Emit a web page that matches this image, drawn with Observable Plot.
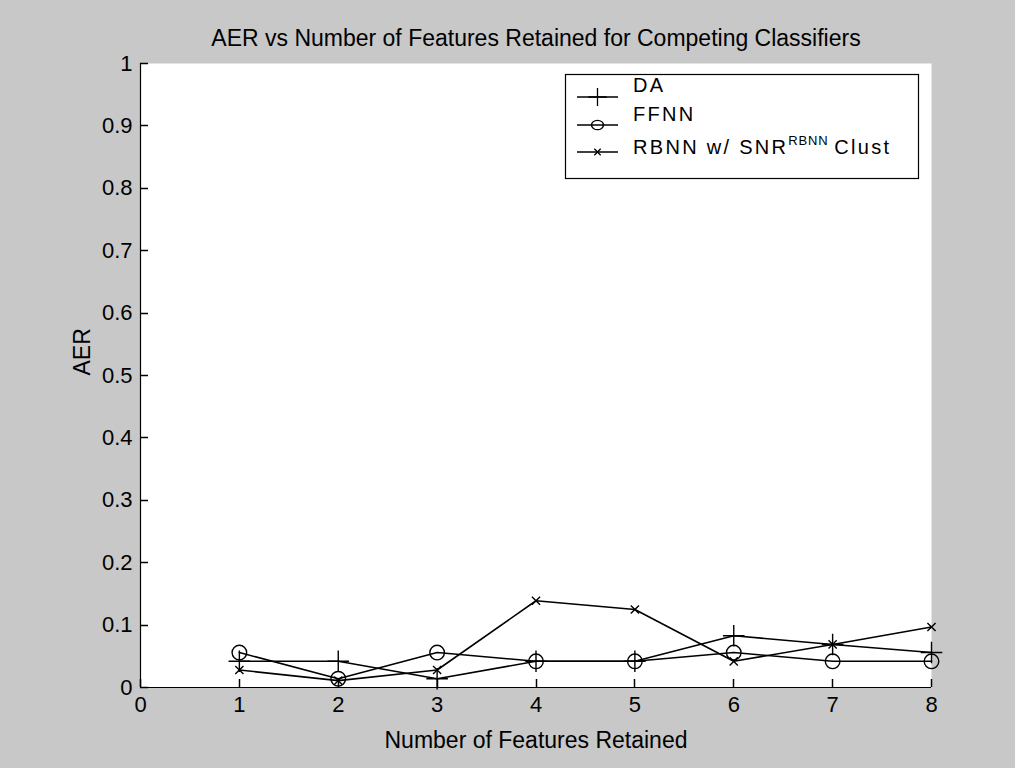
<!DOCTYPE html>
<html>
<head>
<meta charset="utf-8">
<script src="https://cdn.jsdelivr.net/npm/d3@7"></script>
<script src="https://cdn.jsdelivr.net/npm/@observablehq/plot@0.6"></script>
<style>
  html, body { margin: 0; padding: 0; background: #c8c8c8; }
  #wrap { position: relative; width: 1015px; height: 768px; overflow: hidden; }
  .overlay { position: absolute; left: 0; top: 0; pointer-events: none; }
</style>
</head>
<body>
<div id="wrap"></div>
<script>
// ---- data ----
const features = [1, 2, 3, 4, 5, 6, 7, 8];
const daAER   = [0.042, 0.042, 0.014, 0.042, 0.042, 0.083, 0.069, 0.056];
const ffnnAER = [0.056, 0.014, 0.056, 0.042, 0.042, 0.056, 0.042, 0.042];
const rbnnAER = [0.028, 0.011, 0.028, 0.139, 0.125, 0.042, 0.069, 0.097];
const seriesNames = ["DA", "FFNN", "RBNN w/ SNR^RBNN Clust"];
const xTicks = [0, 1, 2, 3, 4, 5, 6, 7, 8];
const yTicks = [0, 0.1, 0.2, 0.3, 0.4, 0.5, 0.6, 0.7, 0.8, 0.9, 1];
const titleText = "AER vs Number of Features Retained for Competing Classifiers";
const xLabel = "Number of Features Retained";
const yLabel = "AER";

const table = [];
[daAER, ffnnAER, rbnnAER].forEach((vals, s) => {
  features.forEach((f, i) => table.push({series: seriesNames[s], x: f, y: vals[i]}));
});
const bySeries = name => table.filter(d => d.series === name);

const font = "'Liberation Sans', Arial, Helvetica, sans-serif";

const chart = Plot.plot({
  width: 1015,
  height: 768,
  marginLeft: 140,
  marginRight: 84,
  marginTop: 63,
  marginBottom: 81,
  style: {background: "transparent", fontFamily: font, fontSize: "22px", color: "black"},
  x: {domain: [0, 8]},
  y: {domain: [0, 1]},
  marks: [
    Plot.frame({fill: "white", stroke: null}),
    Plot.axisX({ticks: xTicks, tickSize: 0, tickPadding: 9, label: null, tickFormat: d => String(d), fontSize: 22}),
    Plot.axisY({ticks: yTicks, tickSize: 0, tickPadding: 8, label: null, tickFormat: d => String(d), fontSize: 22}),
    Plot.ruleX([0], {stroke: "black", strokeWidth: 1.2}),
    Plot.ruleY([0], {stroke: "black", strokeWidth: 1.2}),
    Plot.line(table, {x: "x", y: "y", z: "series", stroke: "black", strokeWidth: 1.6}),
    Plot.dot(bySeries(seriesNames[0]), {x: "x", y: "y", symbol: "plus", r: 7, stroke: "black", strokeWidth: 1.4}),
    Plot.dot(bySeries(seriesNames[1]), {x: "x", y: "y", symbol: "circle", r: 7.3, stroke: "black", strokeWidth: 1.4, fill: "none"}),
    Plot.dot(bySeries(seriesNames[2]), {x: "x", y: "y", symbol: "times", r: 3.8, stroke: "black", strokeWidth: 1.4}),
    Plot.text([titleText], {frameAnchor: "top", dy: -34, text: d => d, fontSize: 23, fill: "black"}),
    Plot.text([xLabel], {frameAnchor: "bottom", dy: 60, text: d => d, fontSize: 23, fill: "black"}),
    Plot.text([yLabel], {frameAnchor: "left", dx: -58, text: d => d, rotate: -90, fontSize: 23, fill: "black"})
  ]
});
document.getElementById("wrap").appendChild(chart);

// ---- inward tick marks, positioned with the chart's own scales ----
const sx = chart.scale("x"), sy = chart.scale("y");
const ov = d3.select("#wrap").append("svg").attr("class", "overlay")
  .attr("width", 1015).attr("height", 768);
const x0 = sx.apply(0), y0 = sy.apply(0);
ov.selectAll("line.xt").data(xTicks).join("line").attr("class", "xt")
  .attr("x1", d => Math.round(sx.apply(d)) + 0.5).attr("x2", d => Math.round(sx.apply(d)) + 0.5)
  .attr("y1", y0).attr("y2", y0 - 8)
  .attr("stroke", "black").attr("stroke-width", 1.5);
ov.selectAll("line.yt").data(yTicks).join("line").attr("class", "yt")
  .attr("y1", d => Math.round(sy.apply(d)) + 0.5).attr("y2", d => Math.round(sy.apply(d)) + 0.5)
  .attr("x1", x0).attr("x2", x0 + 8)
  .attr("stroke", "black").attr("stroke-width", 1.5);

// ---- legend (inside the axes, top-right) ----
const g = ov.append("g").attr("transform", "translate(565,74)").style("font-family", font);
g.append("rect").attr("x", 0.5).attr("y", 0.5).attr("width", 353).attr("height", 104)
  .attr("fill", "white").attr("stroke", "black").attr("stroke-width", 1.2);
const rows = [
  {lineY: 23, textY: 18, sym: d3.symbolPlus, size: 110},
  {lineY: 51, textY: 47, sym: d3.symbolCircle, size: 85},
  {lineY: 78, textY: 80, sym: d3.symbolTimes, size: 28}
];
rows.forEach((r, i) => {
  g.append("line").attr("x1", 12).attr("x2", 53).attr("y1", r.lineY).attr("y2", r.lineY)
    .attr("stroke", "black").attr("stroke-width", 1.5);
  g.append("path").attr("d", d3.symbol(r.sym, r.size)())
    .attr("transform", `translate(32.5,${r.lineY})` + (i === 1 ? " scale(1.15,0.9)" : ""))
    .attr("fill", "none").attr("stroke", "black").attr("stroke-width", 1.3);
  const t = g.append("text").attr("x", 68).attr("y", r.textY)
    .attr("font-size", 20).attr("letter-spacing", "2.3px").attr("fill", "black");
  if (i < 2) {
    t.text(seriesNames[i]);
  } else {
    t.append("tspan").text("RBNN w/ SNR");
    t.append("tspan").attr("font-size", 13).attr("dy", -9).attr("letter-spacing", "0.8px").text("RBNN");
    t.append("tspan").attr("dy", 9).attr("dx", 6).text("Clust");
  }
});
</script>
</body>
</html>
